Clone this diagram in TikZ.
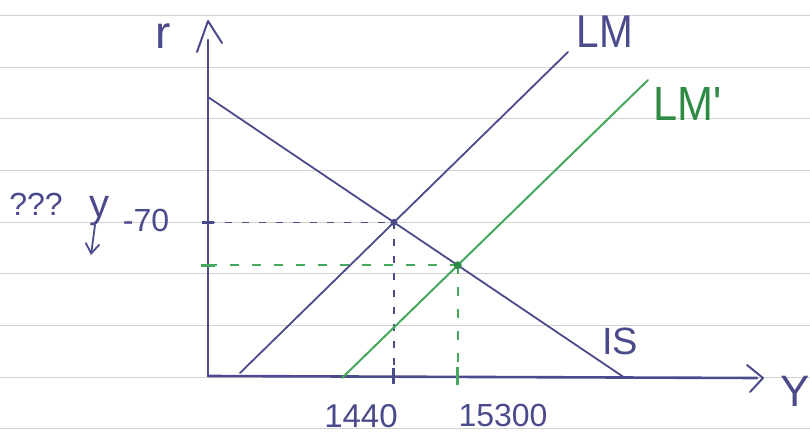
\documentclass[tikz,border=0pt]{standalone}
\usepackage{fontspec}
\setmainfont{Liberation Sans}
\usetikzlibrary{arrows.meta}
\definecolor{ink}{HTML}{4B4A8C}
\definecolor{grn}{HTML}{45A85A}
\definecolor{grnd}{HTML}{2F8A45}
\definecolor{rulec}{HTML}{D2D2D2}
\begin{document}
\begin{tikzpicture}[x=1pt,y=-1pt,
  axisline/.style={ink, line width=2.6pt, line cap=round, line join=round},
  inkline/.style={ink, line width=1.8pt, line cap=round},
  grnline/.style={grn, line width=2pt, line cap=round},
  inkdash/.style={ink, line width=1.6pt, dash pattern=on 7pt off 10pt},
  grndash/.style={grn, line width=1.7pt, dash pattern=on 9pt off 13pt},
  lbl/.style={inner sep=0pt, ink},
  glbl/.style={inner sep=0pt, grnd}]
\useasboundingbox (0,0) rectangle (810,435);
\fill[white] (0,0) rectangle (810,435);
\foreach \yy in {15,67,118,170,222,273,325,377,428}
  \draw[rulec, line width=0.8pt] (0,\yy) -- (810,\yy);

% coordinates
\coordinate (O) at (208,376);
\coordinate (ytop) at (208,40);
\coordinate (xend) at (757,378);
\coordinate (ISa) at (208,97);
\coordinate (ISb) at (625,378);
\coordinate (LMa) at (240,373);
\coordinate (LMb) at (568,52);
\coordinate (LMpa) at (342,378);
\coordinate (LMpb) at (648,80);
\coordinate (E1) at (intersection of ISa--ISb and LMa--LMb);
\coordinate (E2) at (intersection of ISa--ISb and LMpa--LMpb);
\coordinate (E1y) at (O |- E1);
\coordinate (E1x) at (E1 |- O);
\coordinate (E2y) at (O |- E2);
\coordinate (E2x) at (E2 |- O);

% dashed guides
\draw[inkdash] (E1y) -- (E1);
\draw[inkdash] (E1) -- (E1x);
\draw[grndash] (E2y) -- (E2);
\draw[grndash] (E2) -- (E2x);

% axes
\draw[axisline] (O) -- (ytop);
\draw[axisline] (O) -- (xend);
\coordinate (ya1) at (197,52); \coordinate (ya2) at (208,21); \coordinate (ya3) at (222,43);
\draw[axisline, line width=2pt] (ya1) -- (ya2) -- (ya3);
\coordinate (xa1) at (747,365); \coordinate (xa2) at (763,378); \coordinate (xa3) at (750,392);
\draw[axisline, line width=2pt] (xa1) -- (xa2) -- (xa3);

% curves
\draw[inkline] (ISa) -- (ISb);
\draw[inkline] (LMa) -- (LMb);
\draw[grnline] (LMpa) -- (LMpb);

% ticks
\draw[ink, line width=3pt] ([xshift=-6pt]E1y) -- ([xshift=6pt]E1y);
\draw[grn, line width=3pt] ([xshift=-7pt]E2y) -- ([xshift=7pt]E2y);
\draw[ink, line width=3pt] ([yshift=-8pt]E1x) -- ([yshift=8pt]E1x);
\draw[grn, line width=3pt] ([yshift=-9pt]E2x) -- ([yshift=9pt]E2x);

% points
\fill[ink] (E1) circle (3.5pt);
\fill[grnd] (E2) circle (4pt);

% labels
\node[lbl, font=\fontsize{46}{46}\selectfont] (r) at (163,36) {r};
\node[lbl, font=\fontsize{46}{46}\selectfont, xscale=0.88] (LM) at (605,32) {LM};
\node[glbl, font=\fontsize{48}{48}\selectfont, xscale=0.9] (LMp) at (688,104) {LM\textquotesingle};
\node[lbl, font=\fontsize{38}{38}\selectfont] (IS) at (620,341) {IS};
\node[lbl, font=\fontsize{44}{44}\selectfont] (Y) at (795,391) {Y};
\node[lbl, font=\fontsize{33}{33}\selectfont] (n1440) at (361,416) {1440};
\node[lbl, font=\fontsize{32}{32}\selectfont] (n15300) at (503,415) {15300};
\node[lbl, font=\fontsize{32}{32}\selectfont] (m70) at (146,220) {-70};
\node[lbl, font=\fontsize{32}{32}\selectfont] (qqq) at (36,204) {???};
\node[lbl, font=\fontsize{40}{40}\selectfont, anchor=base] (yv) at (99,218) {y};
\coordinate (ytail) at (95,225);
\coordinate (yarr) at (91,255);
\draw[ink, line width=1.8pt, line cap=round, -{Straight Barb[length=10pt,width=14pt,line width=1.8pt]}] (ytail) -- (yarr);
\end{tikzpicture}
\end{document}
